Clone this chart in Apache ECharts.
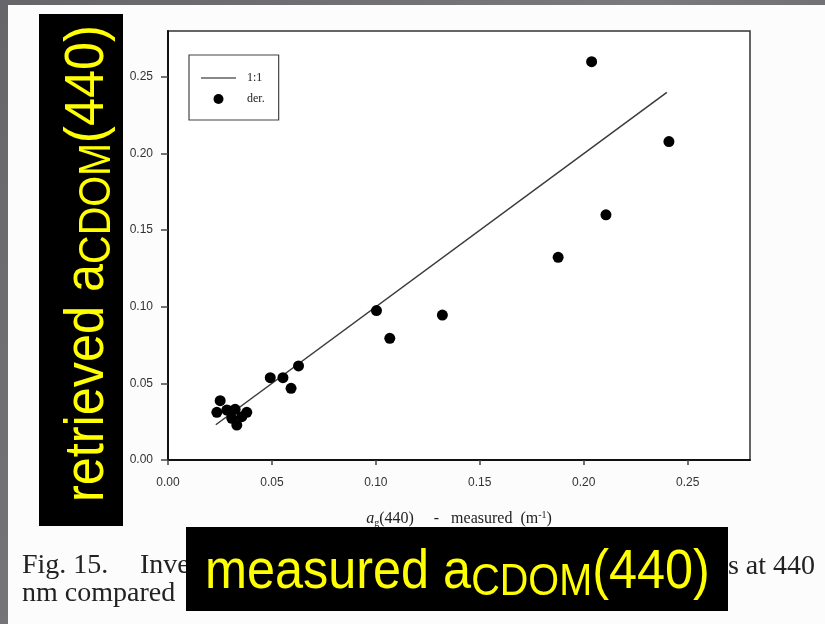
<!DOCTYPE html>
<html><head><meta charset="utf-8">
<script src="https://cdn.jsdelivr.net/npm/echarts@6/dist/echarts.min.js"></script>
<style>html,body{margin:0;padding:0;background:#6c6c6e;}#c{width:825px;height:624px;}</style>
</head><body><div id="c"></div>
<script>
// measured a_g(440) (x) and retrieved (y)
const measured  = [0.0235, 0.0251, 0.0283, 0.0323, 0.0379, 0.0331, 0.0307, 0.0355, 0.0295,
                   0.0492, 0.0553, 0.0592, 0.0628, 0.1003, 0.1067, 0.1320, 0.1877, 0.2038, 0.2107, 0.2410];
const retrieved = [0.0311, 0.0387, 0.0326, 0.0331, 0.0311, 0.0228, 0.0272, 0.0283, 0.0320,
                   0.0537, 0.0537, 0.0468, 0.0614, 0.0975, 0.0794, 0.0946, 0.1323, 0.2600, 0.1600, 0.2078];
const oneToOne = [0.023, 0.24];
const xTicks = [0, 0.05, 0.10, 0.15, 0.20, 0.25];
const yTicks = [0, 0.05, 0.10, 0.15, 0.20, 0.25];
const seriesNames = ['1:1', 'der.'];

const chart = echarts.init(document.getElementById('c'), null, {renderer: 'canvas'});
const serif = '"Liberation Serif", "Times New Roman", serif';
const sans = '"Liberation Sans", Arial, sans-serif';
const yellow = '#ffff00';
const labelRich = {
  m: {fontFamily: sans, fontSize: 56, fill: yellow, lineHeight: 64},
  s: {fontFamily: sans, fontSize: 44, fill: yellow, lineHeight: 14, verticalAlign: 'bottom'}
};

const option = {
  animation: false,
  backgroundColor: {type: 'linear', x: 0, y: 0, x2: 1, y2: 1,
    colorStops: [{offset: 0, color: '#66666a'}, {offset: 0.5, color: '#7a7a7d'}, {offset: 1, color: '#5e5e61'}]},
  grid: {left: 168, right: 75, top: 31, bottom: 164, show: true, borderColor: '#333', borderWidth: 1.5,
         backgroundColor: '#fff', outerBoundsMode: 'none'},
  legend: {
    left: 189, top: 55, orient: 'vertical',
    data: [{name: seriesNames[0], itemStyle: {color: 'rgba(0,0,0,0)', borderWidth: 0, opacity: 0},
            lineStyle: {color: '#888', width: 2}},
           {name: seriesNames[1], itemStyle: {color: '#000', opacity: 1}}],
    itemWidth: 35, itemHeight: 10, itemGap: 9,
    padding: [17, 14, 15, 11],
    borderColor: '#444', borderWidth: 1.2, borderRadius: 0, backgroundColor: '#fff',
    textStyle: {fontFamily: serif, fontSize: 12, color: '#222', padding: [0, 0, 0, 6]}
  },
  xAxis: {
    type: 'value', min: 0, max: 0.28, interval: 0.05,
    axisLine: {show: true, onZero: false, lineStyle: {color: '#111', width: 2}},
    axisTick: {show: true, length: 5, customValues: xTicks, lineStyle: {color: '#444', width: 1.5}},
    axisLabel: {customValues: xTicks, formatter: v => v.toFixed(2), margin: 17,
                fontFamily: sans, fontSize: 12, color: '#333'},
    splitLine: {show: false},
    name: '{i|a}{s|g}{n|(440)     -   measured  (m}{p|-1}{n|)}',
    nameLocation: 'middle', nameGap: 50,
    nameTextStyle: {rich: {
      i: {fontFamily: serif, fontStyle: 'italic', fontSize: 16, color: '#222', lineHeight: 18},
      s: {fontFamily: serif, fontSize: 10, color: '#222', lineHeight: 9, verticalAlign: 'bottom'},
      n: {fontFamily: serif, fontSize: 16, color: '#222', lineHeight: 18},
      p: {fontFamily: serif, fontSize: 10, color: '#222', lineHeight: 9, verticalAlign: 'top'}
    }}
  },
  yAxis: {
    type: 'value', min: 0, max: 0.28, interval: 0.05,
    axisLine: {show: true, onZero: false, lineStyle: {color: '#111', width: 2}},
    axisTick: {show: true, length: 7, customValues: yTicks, lineStyle: {color: '#444', width: 1.5}},
    axisLabel: {customValues: yTicks, formatter: v => v.toFixed(2), margin: 15,
                fontFamily: sans, fontSize: 12, color: '#333'},
    splitLine: {show: false}
  },
  series: [
    {name: seriesNames[0], type: 'line', data: oneToOne.map(v => [v, v]), symbol: 'none',
     lineStyle: {color: '#3a3a3a', width: 1.5}, itemStyle: {color: '#3a3a3a'}, z: 3},
    {name: seriesNames[1], type: 'scatter', data: measured.map((m, i) => [m, retrieved[i]]),
     symbolSize: 11, itemStyle: {color: '#000', opacity: 1}, z: 4}
  ],
  graphic: [
    {type: 'rect', silent: true, z: -10, shape: {x: 8, y: 5, width: 817, height: 619}, style: {fill: '#fcfcfc'}},
    {type: 'text', silent: true, z: 1, x: 22, y: 566,
     style: {text: 'Fig. 15.', font: '28px ' + serif, fill: '#222', verticalAlign: 'middle'}},
    {type: 'text', silent: true, z: 1, x: 140, y: 566,
     style: {text: 'Inve', font: '28px ' + serif, fill: '#222', verticalAlign: 'middle'}},
    {type: 'text', silent: true, z: 1, x: 22, y: 594,
     style: {text: 'nm compared', font: '28px ' + serif, fill: '#222', verticalAlign: 'middle'}},
    {type: 'text', silent: true, z: 1, x: 815, y: 567,
     style: {text: 's at 440', font: '28px ' + serif, fill: '#222', align: 'right', verticalAlign: 'middle'}},
    {type: 'rect', silent: true, z: 50, shape: {x: 39, y: 14, width: 84, height: 512}, style: {fill: '#000'}},
    {type: 'rect', silent: true, z: 50, shape: {x: 186, y: 527, width: 542, height: 84}, style: {fill: '#000'}},
    {type: 'text', silent: true, z: 51, x: 205, y: 573, scaleX: 0.9,
     style: {text: '{m|measured a}{s|CDOM}{m|(440)}', align: 'left', verticalAlign: 'middle', rich: labelRich}},
    {type: 'text', silent: true, z: 51, x: 88, y: 502, rotation: Math.PI / 2, scaleX: 0.9,
     style: {text: '{m|retrieved a}{s|CDOM}{m|(440)}', align: 'left', verticalAlign: 'middle', rich: labelRich}}
  ]
};
chart.setOption(option);
</script></body></html>
